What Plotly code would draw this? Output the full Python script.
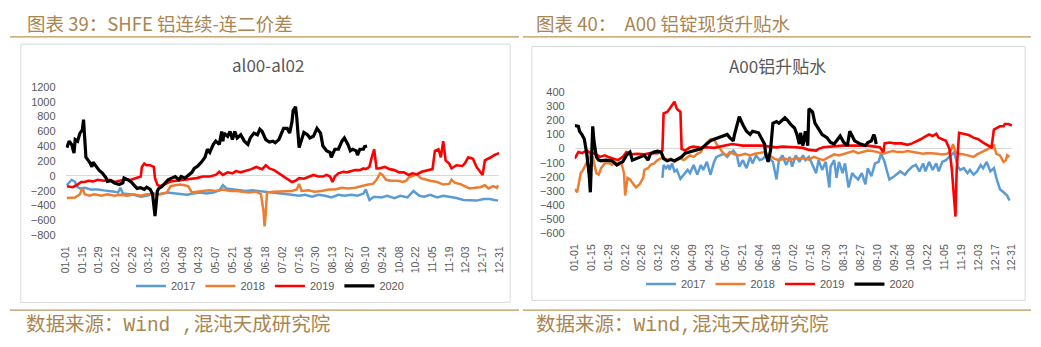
import datetime as dt
import plotly.graph_objects as go

# ---------------------------------------------------------------------------
# Data: day offsets from 1 Jan (seasonal axis) and values for each year
# ---------------------------------------------------------------------------
years = ["2017", "2018", "2019", "2020"]

# SHFE aluminium: continuous minus second-continuous spread (al00-al02), CNY/t
al_2017_day = [1, 5, 8, 9, 12, 16, 21, 27, 32, 38,
               41, 44, 46, 48, 52, 57, 63, 68, 74, 79,
               85, 91, 96, 102, 107, 113, 118, 124, 129, 132,
               135, 140, 146, 151, 157, 162, 168, 174, 179, 185,
               190, 196, 201, 207, 212, 218, 223, 229, 234, 240,
               245, 250, 252, 255, 259, 265, 270, 276, 281, 287,
               292, 297, 301, 306, 312, 317, 323, 328, 334, 339,
               345, 351, 356, 360, 363]
al_2017 = [-126, -52, -82, -139, -169, -160, -182, -182, -195, -203,
           -212, -225, -160, -238, -247, -255, -281, -268, -238, -247,
           -225, -238, -247, -255, -238, -225, -238, -225, -195, -126,
           -169, -182, -195, -203, -195, -203, -212, -225, -238, -247,
           -255, -268, -255, -281, -255, -268, -290, -255, -268, -255,
           -268, -238, -182, -325, -281, -290, -268, -299, -268, -290,
           -203, -268, -281, -255, -290, -268, -281, -299, -325, -333,
           -333, -312, -312, -325, -333]

al_2018_day = [1, 8, 12, 14, 16, 20, 24, 30, 35, 41,
               46, 52, 57, 63, 68, 74, 79, 85, 88, 92,
               96, 100, 103, 106, 110, 115, 121, 126, 132, 138,
               143, 149, 154, 160, 164, 166, 167, 168, 169, 174,
               179, 185, 190, 194, 196, 198, 204, 209, 215, 221,
               226, 232, 237, 243, 248, 254, 258, 261, 264, 266,
               269, 273, 279, 283, 286, 288, 292, 295, 298, 302,
               306, 312, 317, 322, 324, 327, 331, 335, 339, 344,
               348, 352, 355, 359, 362, 363]
al_2018 = [-299, -290, -247, -160, -247, -268, -247, -268, -247, -268,
           -255, -268, -247, -268, -247, -247, -247, -225, -139, -126,
           -117, -126, -139, -225, -212, -203, -195, -203, -182, -203,
           -203, -212, -225, -212, -247, -463, -680, -507, -225, -212,
           -212, -212, -203, -182, -108, -203, -195, -212, -203, -182,
           -182, -160, -169, -160, -139, -117, -108, -52, 35, 13,
           -52, -65, -65, -82, -65, -22, 4, 22, -30, -52,
           -65, -82, -117, -108, -52, -95, -108, -139, -169, -160,
           -152, -126, -169, -139, -160, -126]

al_2019_day = [1, 6, 10, 13, 16, 19, 23, 27, 32, 37,
               41, 45, 49, 55, 59, 63, 64, 66, 68, 71,
               74, 75, 77, 79, 84, 88, 93, 99, 104, 110,
               115, 121, 126, 129, 132, 136, 140, 143, 147, 151,
               156, 160, 162, 165, 168, 171, 175, 179, 183, 187,
               190, 193, 196, 200, 204, 208, 212, 216, 219, 222,
               224, 226, 229, 233, 236, 239, 243, 247, 250, 252,
               255, 257, 259, 261, 263, 268, 272, 276, 280, 284,
               288, 291, 295, 299, 304, 308, 310, 313, 315, 317,
               319, 322, 324, 328, 333, 335, 338, 342, 345, 348,
               350, 352, 355, 357, 360, 363, 364]
al_2019 = [-139, -152, -117, -82, -82, -65, -74, -52, -65, -52,
           -82, -65, -52, -52, -30, -9, 121, 165, 143, 143,
           121, -30, -117, -139, -108, -74, -65, -52, -39, -30,
           -9, -9, 13, 56, 13, 48, 35, 65, 48, 65,
           91, 121, 108, 91, 143, 100, 78, 35, -9, -52,
           -82, -65, -30, -39, -9, 13, -9, -9, 13, -9,
           -82, -9, 35, 56, 48, 65, 78, 78, 100, 91,
           121, 251, 359, 100, 100, 121, 91, 78, 48, 48,
           13, 35, 22, 56, 78, 91, 338, 359, 251, 468,
           208, 165, 100, 143, 134, 165, 251, 229, 121, 48,
           13, 208, 229, 251, 281, 307, 307]

al_2020_day = [1, 3, 5, 7, 8, 10, 12, 14, 15, 16,
               17, 20, 22, 23, 26, 28, 31, 34, 35, 38,
               41, 45, 48, 49, 52, 55, 57, 60, 63, 66,
               68, 71, 73, 75, 77, 78, 81, 84, 86, 89,
               92, 95, 97, 100, 103, 106, 108, 111, 114, 117,
               119, 121, 124, 126, 129, 131, 132, 133, 136, 138,
               140, 142, 144, 147, 150, 153, 155, 158, 161, 163,
               165, 168, 171, 174, 176, 179, 181, 183, 186, 188,
               190, 191, 193, 194, 196, 198, 200, 203, 205, 208,
               211, 214, 216, 219, 222, 223, 226, 229, 232, 234,
               237, 239, 241, 244, 245, 247, 250, 251, 253]
al_2020 = [381, 468, 424, 307, 489, 468, 576, 619, 758, 424,
           251, 186, 121, 186, 121, 78, 35, -30, -74, -65,
           -95, -117, -95, -30, -52, -82, -117, -169, -160, -182,
           -152, -182, -247, -541, -203, -173, -139, -95, -52, -30,
           -9, -52, -9, -30, 13, 48, 100, 134, 186, 251,
           359, 316, 424, 468, 424, 598, 468, 576, 533, 598,
           489, 598, 511, 554, 468, 424, 511, 576, 554, 628,
           598, 489, 455, 468, 446, 489, 567, 641, 641, 576,
           727, 879, 931, 792, 381, 489, 585, 554, 511, 533,
           641, 576, 403, 338, 316, 251, 359, 359, 468, 511,
           424, 338, 359, 338, 281, 359, 359, 394, 403]

# A00 aluminium ingot spot premium / discount, CNY/t
a00_2017_day = [73, 74, 76, 78, 79, 81, 83, 85, 88, 91,
                94, 96, 99, 102, 105, 107, 110, 113, 116, 118,
                121, 124, 127, 129, 132, 135, 137, 140, 143, 146,
                148, 151, 154, 157, 159, 162, 165, 168, 170, 173,
                176, 179, 181, 184, 187, 190, 192, 195, 198, 201,
                203, 206, 209, 212, 213, 216, 218, 220, 223, 225,
                228, 231, 233, 236, 239, 242, 244, 247, 250, 253,
                255, 258, 260, 262, 266, 271, 275, 277, 281, 284,
                287, 290, 292, 295, 298, 301, 303, 306, 309, 312,
                314, 316, 319, 321, 324, 327, 329, 332, 335, 338,
                340, 343, 346, 349, 351, 354, 357, 360, 362]
a00_2017 = [-208, -116, -139, -116, -151, -105, -162, -151, -215, -185,
            -151, -174, -116, -185, -116, -151, -94, -185, -94, -59,
            -48, -37, -59, -37, -14, -48, -128, -82, -139, -59,
            -105, -48, -82, -71, -48, -71, -94, -219, -82, -48,
            -116, -59, -128, -48, -94, -48, -82, -59, -116, -174,
            -82, -151, -94, -276, -128, -82, -208, -94, -174, -105,
            -276, -174, -196, -219, -174, -253, -139, -196, -105, -94,
            -37, -94, -162, -219, -196, -162, -185, -162, -128, -116,
            -162, -105, -162, -94, -151, -105, -162, -94, -82, -59,
            -37, -25, -128, -151, -139, -174, -151, -185, -162, -116,
            -139, -94, -162, -139, -208, -288, -310, -333, -368]

a00_2018_day = [0, 2, 3, 5, 7, 10, 13, 15, 18, 20,
                22, 25, 28, 31, 33, 36, 39, 41, 42, 44,
                46, 48, 51, 54, 57, 58, 61, 63, 66, 69,
                72, 74, 77, 80, 83, 85, 88, 91, 94, 96,
                99, 102, 105, 107, 110, 113, 116, 118, 121, 124,
                127, 129, 133, 137, 142, 146, 150, 154, 158, 162,
                166, 170, 175, 179, 183, 187, 191, 195, 199, 203,
                207, 212, 216, 220, 224, 228, 232, 236, 240, 244,
                249, 253, 257, 261, 265, 269, 273, 277, 281, 286,
                290, 294, 298, 302, 306, 310, 313, 315, 317, 320,
                324, 328, 332, 335, 339, 343, 346, 349, 351, 354,
                357, 359, 360, 362]
a00_2018 = [-288, -310, -265, -174, -151, -94, -48, -59, -174, -185,
            -139, -105, -100, -116, -94, -116, -105, -174, -333, -208,
            -219, -242, -276, -253, -208, -151, -139, -116, -105, -82,
            -71, -59, -82, -71, -94, -82, -71, -82, -59, -48,
            -59, -37, -25, 9, 43, 66, 66, 32, -2, -37,
            -48, -25, -41, -48, -37, -48, -37, -32, -25, -48,
            -71, -82, -71, -82, -71, -71, -71, -78, -59, -71,
            -82, -59, -41, -48, -37, -25, -18, -32, -25, -14,
            -18, -25, -37, -25, -18, -25, -25, -18, -25, -32,
            -37, -32, -37, -37, -41, -37, -14, 32, -25, -37,
            -41, -48, -59, -41, -25, -9, 5, 21, -37, -48,
            -94, -82, -48, -59]

a00_2019_day = [0, 3, 6, 10, 13, 17, 21, 25, 28, 32,
                36, 40, 43, 47, 52, 58, 63, 69, 73, 74,
                77, 79, 81, 83, 85, 88, 89, 92, 96, 99,
                105, 110, 116, 121, 127, 131, 135, 140, 146, 151,
                157, 162, 168, 173, 179, 184, 190, 195, 201, 203,
                207, 212, 217, 223, 228, 233, 239, 244, 250, 254,
                257, 258, 262, 266, 272, 277, 281, 286, 288, 291,
                295, 298, 301, 303, 306, 309, 312, 314, 317, 318,
                320, 324, 328, 332, 336, 340, 345, 347, 349, 351,
                354, 357, 358, 361, 364]
a00_2019 = [-71, -25, -32, -14, -32, -37, -59, -48, -59, -71,
            -82, -59, -25, -41, -37, -41, -32, -32, -14, 249,
            260, 283, 306, 333, 283, 260, -2, -14, 9, 14,
            5, 9, 5, 14, 21, 32, 27, 21, 21, 21,
            21, 14, 9, 14, 14, 9, 5, -9, -14, -2,
            9, 14, 14, 21, 21, 21, 21, 21, 14, 9,
            -25, 37, 43, 37, 37, 27, 37, 55, 66, 82,
            100, 89, 105, 78, 66, 55, -2, -151, -482, -151,
            112, 105, 96, 78, 66, 43, 21, 9, 135, 146,
            158, 158, 174, 174, 164]

a00_2020_day = [0, 3, 4, 6, 8, 10, 12, 13, 15, 16,
                18, 20, 22, 26, 31, 35, 37, 40, 43, 46,
                48, 51, 55, 58, 61, 63, 66, 69, 72, 74,
                77, 80, 83, 87, 89, 92, 96, 100, 105, 107,
                110, 113, 116, 120, 122, 127, 129, 132, 133, 135,
                137, 140, 143, 146, 148, 153, 155, 158, 159, 161,
                163, 165, 168, 170, 175, 177, 180, 183, 185, 187,
                188, 190, 192, 194, 195, 198, 200, 203, 206, 210,
                213, 216, 218, 221, 224, 227, 229, 231, 233, 238,
                242, 244, 247, 249, 250, 251]
a00_2020 = [164, 158, 123, 100, 66, -37, -185, -310, 158, 55,
            -59, -82, -87, -82, -87, -116, -105, -94, -48, -25,
            -82, -71, -59, -48, -82, -37, -25, -18, -25, -71,
            -87, -78, -87, -71, -59, -32, -25, -14, -2, 14,
            32, 55, 66, 78, 89, 100, 78, 55, 100, 158,
            226, 169, 123, 100, 123, 112, 78, 32, -37, -94,
            -14, 180, 192, 180, 219, 203, 169, 146, 100, 32,
            112, 21, 123, 21, 283, 260, 180, 135, 100, 78,
            43, 32, 55, 89, 43, 21, 123, 89, 55, 32,
            21, 43, 55, 100, 78, 32]

# ---------------------------------------------------------------------------
# Styling
# ---------------------------------------------------------------------------
W, H = 1041, 347
BASE = dt.datetime(2001, 1, 1)          # non-leap year used as the seasonal axis
COLORS = {"2017": "#5B9BD5", "2018": "#ED7D31", "2019": "#FF0000", "2020": "#000000"}
WIDTHS = {"2017": 2.5, "2018": 2.5, "2019": 2.6, "2020": 3.2}
TXT = "#595959"
GOLD = "#B8955C"
GOLD_TXT = "#A9854F"
BORDER = "#D9D9D9"
SANS = "Liberation Sans, Arial, sans-serif"
CJK = "Noto Sans CJK SC, sans-serif"
SOURCE_FONT = "Liberation Mono, Noto Sans CJK SC, monospace"


def px(x):
    return x / W


def py(y):
    return 1 - y / H


def to_dates(days):
    return [BASE + dt.timedelta(days=d) for d in days]


left = [("2017", al_2017_day, al_2017), ("2018", al_2018_day, al_2018),
        ("2019", al_2019_day, al_2019), ("2020", al_2020_day, al_2020)]
right = [("2017", a00_2017_day, a00_2017), ("2018", a00_2018_day, a00_2018),
         ("2019", a00_2019_day, a00_2019), ("2020", a00_2020_day, a00_2020)]

fig = go.Figure()
for panel, xa, ya, lg in ((left, "x", "y", "legend"), (right, "x2", "y2", "legend2")):
    for yr, days, vals in panel:
        fig.add_trace(go.Scatter(
            x=to_dates(days), y=vals, name=yr, mode="lines",
            line=dict(color=COLORS[yr], width=WIDTHS[yr]),
            xaxis=xa, yaxis=ya, legend=lg, hoverinfo="skip"))

xcommon = dict(
    type="date",
    range=["2000-12-31 23:00", "2001-12-31 01:00"],
    tick0="2001-01-01", dtick=14 * 86400000, tickformat="%m-%d",
    tickangle=-90, ticks="", ticklabelstandoff=8,
    tickfont=dict(family=SANS, size=10.5, color=TXT),
    showgrid=False, showline=False, zeroline=False, fixedrange=True,
)
ycommon = dict(
    ticks="", showgrid=False, showline=False, fixedrange=True,
    zeroline=True, zerolinecolor=BORDER, zerolinewidth=1,
    tickfont=dict(family=SANS, size=11, color=TXT), ticklabelstandoff=9,
)

legend_common = dict(
    orientation="h", xanchor="center", yanchor="middle",
    font=dict(family=SANS, size=11, color=TXT),
    bgcolor="rgba(0,0,0,0)", itemclick=False, itemdoubleclick=False,
)

shapes = [
    # section rules under the headings and above the source lines
    dict(type="line", xref="paper", yref="paper", x0=px(3), x1=px(518),
         y0=py(32), y1=py(32), line=dict(color=GOLD, width=1.2)),
    dict(type="line", xref="paper", yref="paper", x0=px(522), x1=px(1036),
         y0=py(32), y1=py(32), line=dict(color=GOLD, width=1.2)),
    dict(type="line", xref="paper", yref="paper", x0=px(3), x1=px(518),
         y0=py(315), y1=py(315), line=dict(color=GOLD, width=1.2)),
    dict(type="line", xref="paper", yref="paper", x0=px(522), x1=px(1036),
         y0=py(315), y1=py(315), line=dict(color=GOLD, width=1.2)),
    # chart frames
    dict(type="rect", xref="paper", yref="paper", x0=px(14), x1=px(509),
         y0=py(307), y1=py(39.5), line=dict(color=BORDER, width=1)),
    dict(type="rect", xref="paper", yref="paper", x0=px(531), x1=px(1030),
         y0=py(305), y1=py(42), line=dict(color=BORDER, width=1)),
]

annotations = [
    dict(text="图表 39：SHFE 铝连续-连二价差", x=px(18), y=py(18), xanchor="left",
         yanchor="middle", font=dict(family=CJK, size=18.5, color=GOLD_TXT)),
    dict(text="图表 40：  A00 铝锭现货升贴水", x=px(533), y=py(18), xanchor="left",
         yanchor="middle", font=dict(family=CJK, size=18.5, color=GOLD_TXT)),
    dict(text="数据来源：Wind ,混沌天成研究院", x=px(17), y=py(331), xanchor="left",
         yanchor="middle", font=dict(family=SOURCE_FONT, size=19.5, color=GOLD_TXT)),
    dict(text="数据来源：Wind,混沌天成研究院", x=px(533), y=py(331), xanchor="left",
         yanchor="middle", font=dict(family=SOURCE_FONT, size=19.5, color=GOLD_TXT)),
    dict(text="al00-al02", x=px(264), y=py(61), xanchor="center", yanchor="middle",
         font=dict(family=CJK, size=17, color=TXT)),
    dict(text="A00铝升贴水", x=px(779), y=py(62), xanchor="center", yanchor="middle",
         font=dict(family=CJK, size=17, color=TXT)),
]
for a in annotations:
    a.update(xref="paper", yref="paper", showarrow=False)

fig.update_layout(
    width=W, height=H, margin=dict(l=0, r=0, t=0, b=0),
    paper_bgcolor="white", plot_bgcolor="white", showlegend=True,
    xaxis=dict(xcommon, domain=[px(59.3), px(498)], anchor="y"),
    yaxis=dict(ycommon, domain=[py(237.5), py(83.7)], range=[-800, 1200],
               dtick=200, tick0=0, anchor="x"),
    xaxis2=dict(xcommon, domain=[px(574.3), px(1016.7)], anchor="y2"),
    yaxis2=dict(ycommon, domain=[py(235.3), py(89.3)], range=[-600, 400],
                dtick=100, tick0=0, anchor="x2"),
    legend=dict(legend_common, x=px(266), y=py(290)),
    legend2=dict(legend_common, x=px(782), y=py(288)),
    shapes=shapes, annotations=annotations,
)

fig.write_html("out.html")
